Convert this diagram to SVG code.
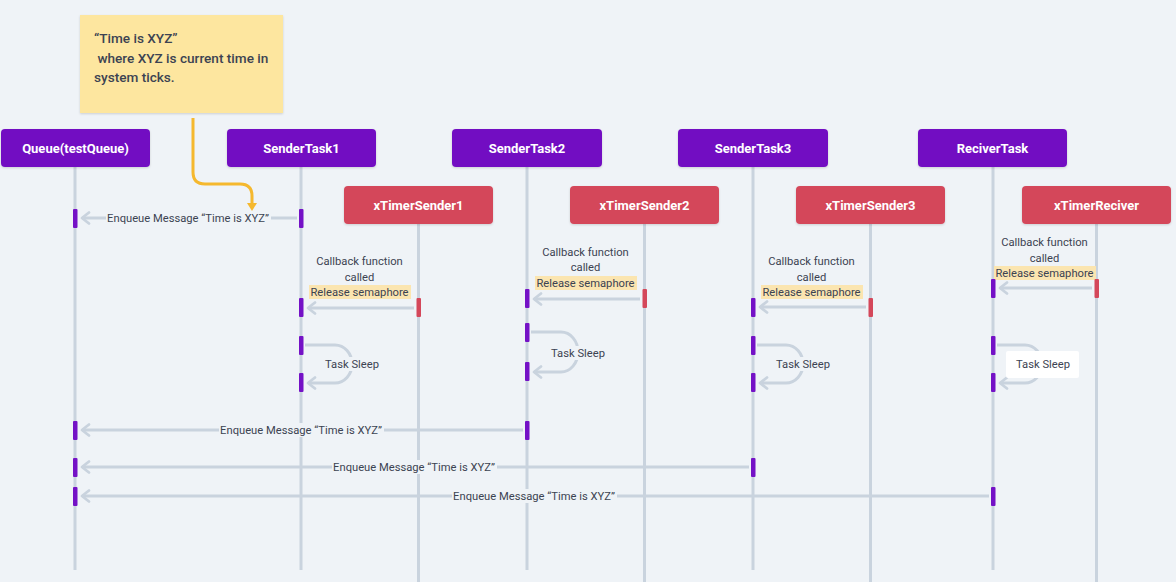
<svg xmlns="http://www.w3.org/2000/svg" width="1176" height="582" viewBox="0 0 1176 582">
<defs>
<style>
.bg{fill:#eff3f7}
.life{stroke:#c9d3de;stroke-width:3;fill:none}
.task{fill:#7211c2}
.tmr{fill:#d4475a}
.hdr{font-family:Roboto,"Liberation Sans",sans-serif;font-weight:bold;font-size:13px;fill:#ffffff;text-anchor:middle;dominant-baseline:central}
.lbl{font-family:Roboto,"Liberation Sans",sans-serif;font-size:11.2px;fill:#3c4352;text-anchor:middle;dominant-baseline:central}
.note{font-family:Roboto,"Liberation Sans",sans-serif;font-size:13.6px;font-weight:500;fill:#3c4352}
.msg{stroke:#c9d3de;stroke-width:3;fill:none;marker-end:url(#ah)}
.actP{fill:#7411c6}
.actR{fill:#d4475a}
.lblbg{fill:#eff3f7}
.hl{fill:#fbe5b0}
</style>
<marker id="ah" viewBox="-11 -7 13 14" refX="0" refY="0" markerWidth="13" markerHeight="14" markerUnits="userSpaceOnUse" orient="auto" overflow="visible">
<path d="M-7,-5.5 L0,0 L-7,5.5" fill="none" stroke="#c9d3de" stroke-width="2.8" stroke-linecap="round" stroke-linejoin="round"/>
</marker>
<marker id="ao" viewBox="-6 -6 12 12" refX="0" refY="0" markerWidth="12" markerHeight="12" markerUnits="userSpaceOnUse" orient="auto">
<path d="M-5,-5 L3,0 L-5,5 Z" fill="#f5b82e"/>
</marker>
<filter id="sh" x="-10%" y="-20%" width="120%" height="150%">
<feDropShadow dx="0" dy="1" stdDeviation="1.2" flood-color="#000000" flood-opacity="0.15"/>
</filter>
</defs>
<rect class="bg" x="0" y="0" width="1176" height="582"/>

<g id="lifelines">
<line class="life" x1="75" y1="167" x2="75" y2="570"/>
<line class="life" x1="301" y1="167" x2="301" y2="570"/>
<line class="life" x1="527" y1="167" x2="527" y2="570"/>
<line class="life" x1="753" y1="167" x2="753" y2="570"/>
<line class="life" x1="993" y1="167" x2="993" y2="570"/>
<line class="life" x1="418.5" y1="224" x2="418.5" y2="582"/>
<line class="life" x1="644.5" y1="224" x2="644.5" y2="582"/>
<line class="life" x1="870.5" y1="224" x2="870.5" y2="582"/>
<line class="life" x1="1096.5" y1="224" x2="1096.5" y2="582"/>
</g>

<g id="note">
<rect x="80" y="15" width="203" height="98" fill="#fde69f" filter="url(#sh)"/>
<text class="note" x="94" y="43">“Time is XYZ”</text>
<text class="note" x="94" y="63" xml:space="preserve"> where XYZ is current time in</text>
<text class="note" x="94" y="82">system ticks.</text>
</g>

<g id="node-queue"><rect class="task" x="1" y="129" width="149" height="38" rx="4" filter="url(#sh)"/><text class="hdr" x="75.5" y="148">Queue(testQueue)</text></g>
<g id="node-sendertask1"><rect class="task" x="227" y="129" width="149" height="38" rx="4" filter="url(#sh)"/><text class="hdr" x="301.5" y="148">SenderTask1</text></g>
<g id="node-sendertask2"><rect class="task" x="452" y="129" width="150" height="38" rx="4" filter="url(#sh)"/><text class="hdr" x="527" y="148">SenderTask2</text></g>
<g id="node-sendertask3"><rect class="task" x="678" y="129" width="150" height="38" rx="4" filter="url(#sh)"/><text class="hdr" x="753" y="148">SenderTask3</text></g>
<g id="node-recivertask"><rect class="task" x="918" y="129" width="149" height="38" rx="4" filter="url(#sh)"/><text class="hdr" x="992.5" y="148">ReciverTask</text></g>
<g id="node-xtimersender1"><rect class="tmr" x="344" y="186" width="149" height="38" rx="4" filter="url(#sh)"/><text class="hdr" x="418.5" y="205">xTimerSender1</text></g>
<g id="node-xtimersender2"><rect class="tmr" x="570" y="186" width="149" height="38" rx="4" filter="url(#sh)"/><text class="hdr" x="644.5" y="205">xTimerSender2</text></g>
<g id="node-xtimersender3"><rect class="tmr" x="796" y="186" width="149" height="38" rx="4" filter="url(#sh)"/><text class="hdr" x="870.5" y="205">xTimerSender3</text></g>
<g id="node-xtimerreciver"><rect class="tmr" x="1022" y="186" width="149" height="38" rx="4" filter="url(#sh)"/><text class="hdr" x="1096.5" y="205">xTimerReciver</text></g>

<g id="connectors">
<path d="M193 118 V172 Q193 184 205 184 H240 Q252 184 252 196 V208" stroke="#f5b82e" stroke-width="3" fill="none" marker-end="url(#ao)"/>

<line class="msg" x1="297" y1="218" x2="82" y2="218"/>
<rect class="lblbg" x="106" y="211" width="165" height="14"/>
<text class="lbl" x="188" y="218">Enqueue Message “Time is XYZ”</text>

<line class="msg" x1="414" y1="308" x2="308" y2="308"/>
<line class="msg" x1="640" y1="299" x2="534" y2="299"/>
<line class="msg" x1="866" y1="307" x2="760" y2="307"/>
<line class="msg" x1="1092" y1="288" x2="1000" y2="288"/>

<path class="msg" d="M305 345 H335 A17 19 0 0 1 352 364 A17 19 0 0 1 335 383 H308"/>
<path class="msg" d="M531 332 H561 A17 20 0 0 1 578 352 A17 20 0 0 1 561 372 H534"/>
<path class="msg" d="M757 345 H786 A17 19 0 0 1 803 364 A17 19 0 0 1 786 383 H760"/>
<path class="msg" d="M997 345 H1025 A17 19 0 0 1 1042 364 A17 19 0 0 1 1025 383 H1000"/>

<line class="msg" x1="523" y1="430" x2="82" y2="430"/>
<rect class="lblbg" x="219" y="423" width="165" height="14"/>
<text class="lbl" x="301" y="430">Enqueue Message “Time is XYZ”</text>
<line class="msg" x1="749" y1="467" x2="82" y2="467"/>
<rect class="lblbg" x="332" y="460" width="165" height="14"/>
<text class="lbl" x="414" y="467">Enqueue Message “Time is XYZ”</text>
<line class="msg" x1="989" y1="496" x2="82" y2="496"/>
<rect class="lblbg" x="452" y="489" width="165" height="14"/>
<text class="lbl" x="534" y="496">Enqueue Message “Time is XYZ”</text>
</g>

<g id="labels">
<text class="lbl" x="359.5" y="261">Callback function</text>
<text class="lbl" x="359.5" y="277">called</text>
<rect class="hl" x="309" y="285" width="102" height="14"/>
<text class="lbl" x="359.5" y="292">Release semaphore</text>

<text class="lbl" x="585.5" y="252">Callback function</text>
<text class="lbl" x="585.5" y="267">called</text>
<rect class="hl" x="535" y="276" width="102" height="14"/>
<text class="lbl" x="585.5" y="283">Release semaphore</text>

<text class="lbl" x="811.5" y="261">Callback function</text>
<text class="lbl" x="811.5" y="277">called</text>
<rect class="hl" x="761" y="285" width="102" height="14"/>
<text class="lbl" x="811.5" y="292">Release semaphore</text>

<text class="lbl" x="1044.5" y="242">Callback function</text>
<text class="lbl" x="1044.5" y="258">called</text>
<rect class="hl" x="994" y="266" width="102" height="14"/>
<text class="lbl" x="1044.5" y="273">Release semaphore</text>

<rect class="lblbg" x="322" y="357" width="60" height="14"/>
<text class="lbl" x="352" y="364">Task Sleep</text>
<rect class="lblbg" x="548" y="346" width="60" height="14"/>
<text class="lbl" x="578" y="353">Task Sleep</text>
<rect class="lblbg" x="773" y="357" width="60" height="14"/>
<text class="lbl" x="803" y="364">Task Sleep</text>
<rect x="1006" y="351" width="73" height="27" rx="2" fill="#ffffff"/>
<text class="lbl" x="1043" y="364">Task Sleep</text>
</g>

<g id="activations">
<rect class="actP" x="73" y="209" width="4.5" height="19" rx="1"/>
<rect class="actP" x="299" y="209" width="4.5" height="19" rx="1"/>
<rect class="actP" x="299" y="298" width="4.5" height="19" rx="1"/>
<rect class="actR" x="416.5" y="298" width="4.5" height="19" rx="1"/>
<rect class="actP" x="299" y="336" width="4.5" height="19" rx="1"/>
<rect class="actP" x="299" y="373" width="4.5" height="19" rx="1"/>

<rect class="actP" x="525" y="289" width="4.5" height="19" rx="1"/>
<rect class="actR" x="642.5" y="289" width="4.5" height="19" rx="1"/>
<rect class="actP" x="525" y="323" width="4.5" height="19" rx="1"/>
<rect class="actP" x="525" y="362" width="4.5" height="19" rx="1"/>

<rect class="actP" x="751" y="298" width="4.5" height="19" rx="1"/>
<rect class="actR" x="868.5" y="298" width="4.5" height="19" rx="1"/>
<rect class="actP" x="751" y="336" width="4.5" height="19" rx="1"/>
<rect class="actP" x="751" y="373" width="4.5" height="19" rx="1"/>

<rect class="actP" x="991" y="279" width="4.5" height="19" rx="1"/>
<rect class="actR" x="1094.5" y="279" width="4.5" height="19" rx="1"/>
<rect class="actP" x="991" y="336" width="4.5" height="19" rx="1"/>
<rect class="actP" x="991" y="373" width="4.5" height="19" rx="1"/>

<rect class="actP" x="73" y="421" width="4.5" height="19" rx="1"/>
<rect class="actP" x="525" y="421" width="4.5" height="19" rx="1"/>
<rect class="actP" x="73" y="458" width="4.5" height="19" rx="1"/>
<rect class="actP" x="751" y="458" width="4.5" height="19" rx="1"/>
<rect class="actP" x="73" y="487" width="4.5" height="19" rx="1"/>
<rect class="actP" x="991" y="487" width="4.5" height="19" rx="1"/>
</g>
</svg>
